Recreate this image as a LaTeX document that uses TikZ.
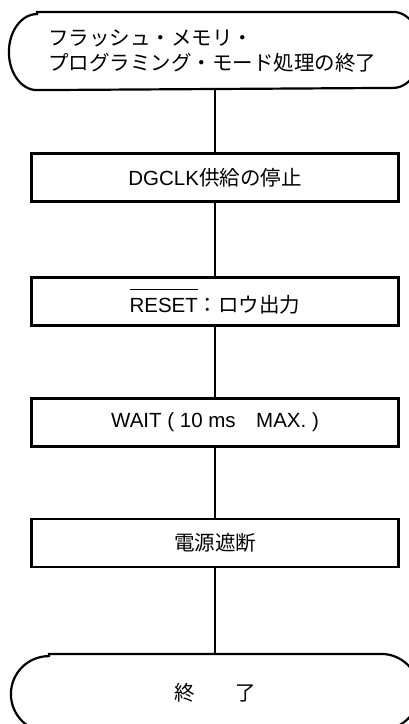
\documentclass[tikz,border=0pt]{standalone}
\usepackage{fontspec}
\setmainfont{Liberation Sans}
\newfontfamily\jp{Noto Sans CJK JP}
\newcommand\fs{\fontsize{20.5pt}{25pt}\selectfont}
\newcommand\ovlbar[1]{\leavevmode\rlap{\setbox0\hbox{#1}\rule[\dimexpr\ht0+8pt\relax]{\wd0}{1.2pt}}#1}
\begin{document}
\begin{tikzpicture}[x=1pt,y=-1pt,line width=2.2pt,
  box/.style={draw, rectangle, minimum width=367pt, minimum height=48pt, inner sep=0pt, font=\fs},
  term/.style={rectangle, minimum height=76pt, inner sep=0pt, font=\fs}]
\useasboundingbox (0,0) rectangle (409,724);
\clip (0,0) rectangle (409,724);
% top terminal
\node[term, minimum width=410pt] (t1) at (215,51) {};
\draw ([xshift=28pt]t1.north west) -- ([xshift=-28pt]t1.north east)
  arc[start angle=90, end angle=-90, x radius=28pt, y radius=38pt]
  -- ([xshift=28pt]t1.south west)
  arc[start angle=270, end angle=90, x radius=28pt, y radius=38pt] -- cycle;
\node[anchor=west, align=left, inner sep=0pt, font=\fs] (t1text) at (47,51)
  {{\jp フラッシュ・メモリ・}\\{\jp プログラミング・モード処理の終了}};
% process boxes
\node[box] (b1) at (215,177.5) {DGCLK{\jp 供給の停止}};
\node[box] (b2) at (215,301.5) {\ovlbar{RESET}{\jp ：ロウ出力}};
\node[box] (b3) at (215,422.5) {WAIT ( 10 ms\hspace{1em}MAX. )};
\node[box] (b4) at (215,543) {{\jp 電源遮断}};
% bottom terminal
\node[term, minimum width=406pt] (t2) at (215,693) {{\jp 終　　了}};
\draw ([xshift=38pt]t2.north west) -- ([xshift=-38pt]t2.north east)
  arc[start angle=90, end angle=-90, x radius=38pt, y radius=38pt]
  -- ([xshift=38pt]t2.south west)
  arc[start angle=270, end angle=90, x radius=38pt, y radius=38pt] -- cycle;
% connectors
\draw (t1.south) -- (b1.north);
\draw (b1.south) -- (b2.north);
\draw (b2.south) -- (b3.north);
\draw (b3.south) -- (b4.north);
\draw (b4.south) -- (t2.north);
\end{tikzpicture}
\end{document}
